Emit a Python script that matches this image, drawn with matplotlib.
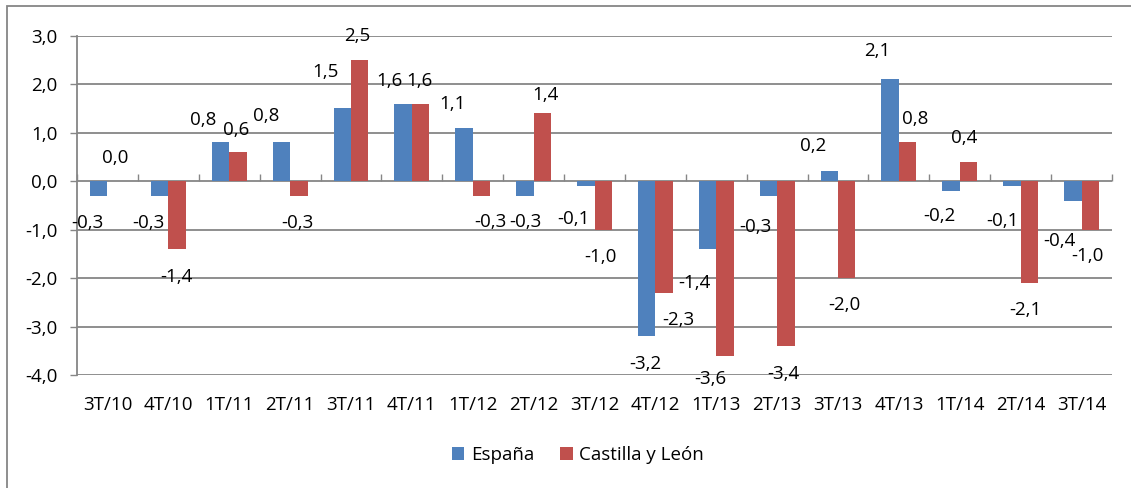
import matplotlib
matplotlib.use("Agg")
import matplotlib.pyplot as plt
from matplotlib.patches import Rectangle
import numpy as np

plt.rcParams['font.family'] = ['Open Sans', 'DejaVu Sans']

categories = ["3T/10", "4T/10", "1T/11", "2T/11", "3T/11", "4T/11", "1T/12", "2T/12", "3T/12",
              "4T/12", "1T/13", "2T/13", "3T/13", "4T/13", "1T/14", "2T/14", "3T/14"]
espana = [-0.3, -0.3, 0.8, 0.8, 1.5, 1.6, 1.1, -0.3, -0.1, -3.2, -1.4, -0.3, 0.2, 2.1, -0.2, -0.1, -0.4]
castilla = [0.0, -1.4, 0.6, -0.3, 2.5, 1.6, -0.3, 1.4, -1.0, -2.3, -3.6, -3.4, -2.0, 0.8, 0.4, -2.1, -1.0]
series_names = ["España", "Castilla y León"]

# label nudges (pixels) relative to bar end, as placed in the original chart
esp_dx = [-11.5, -11.4, -17, -15.5, -17, -14, -12, 0, -12, -1, -13, -13, -16, -13, -12, -10, -13]
esp_dy = [-26.9, -26.9, 22, 26, 36, 22.5, 24, -26, -33, -28, -34.5, -31, 25, 28.4, -25, -35, -40]
cyl_dx = [-0.7, -1, -1.7, -1.3, -2, -1, 8.6, 3.5, -2.5, 14, -15, -2.5, -2, 8, -4, -4, -3]
cyl_dy = [23.6, -28.5, 22.4, -27, 24, 22.5, -26, 17.8, -27.2, -27.3, -23.5, -28.3, -27.3, 23.4, 23.7, -27, -26.5]

BLUE = "#4F81BD"
RED = "#C0504D"
GRID = "#868686"
DPI = 100
W, H = 1131, 488
FS = 13.5

fig = plt.figure(figsize=(W / DPI, H / DPI), dpi=DPI)
ax = fig.add_axes([77 / W, 1 - 375 / H, (1112 - 77) / W, (375 - 35.7) / H])

x = np.arange(len(categories))
bw = 0.286
b1 = ax.bar(x - bw / 2, espana, bw, color=BLUE, label=series_names[0], zorder=3)
b2 = ax.bar(x + bw / 2, castilla, bw, color=RED, label=series_names[1], zorder=3)

ax.set_xlim(-0.5, len(categories) - 0.5)
ax.set_ylim(-4, 3)
yt = np.arange(-4, 4, 1)
ax.set_yticks(yt)
ax.set_yticklabels([f"{v:.1f}".replace('.', ',') for v in yt])
ax.yaxis.grid(True, color=GRID, linewidth=1.3, zorder=0)
ax.set_axisbelow(True)

ax.set_xticks(x)
ax.set_xticklabels(categories)
ax.tick_params(axis='x', length=0, pad=15, labelsize=FS, colors='black')
ax.tick_params(axis='y', length=5, width=1.0, color=GRID, pad=9, labelsize=FS, direction='out')

for s in ['top', 'right', 'bottom']:
    ax.spines[s].set_visible(False)
ax.spines['left'].set_color(GRID)
ax.spines['left'].set_linewidth(1.3)

# horizontal axis line at zero with boundary ticks
sec = ax.secondary_xaxis(4 / 7)
sec.set_xticks(np.arange(-0.5, len(categories), 1))
sec.set_xticklabels([])
sec.tick_params(axis='x', direction='out', length=5, width=1.0, color=GRID)
sec.spines['bottom'].set_color(GRID)
sec.spines['bottom'].set_linewidth(1.3)
sec.spines['top'].set_visible(False)

def fmt(v):
    return f"{v:.1f}".replace('.', ',')

px2pt = 72 / DPI
for i in range(len(categories)):
    ax.annotate(fmt(espana[i]), (x[i] - bw / 2, espana[i]),
                xytext=(esp_dx[i] * px2pt, esp_dy[i] * px2pt), textcoords='offset points',
                ha='center', va='center', fontsize=FS, zorder=5)
    ax.annotate(fmt(castilla[i]), (x[i] + bw / 2, castilla[i]),
                xytext=(cyl_dx[i] * px2pt, cyl_dy[i] * px2pt), textcoords='offset points',
                ha='center', va='center', fontsize=FS, zorder=5)

fig.legend(handles=[b1, b2], labels=series_names, loc='center', bbox_to_anchor=(578 / W, 1 - 455 / H),
           ncol=2, frameon=False, fontsize=FS, handlelength=0.65, handleheight=0.65,
           handletextpad=0.35, columnspacing=1.4)

fig.patches.append(Rectangle((6.5 / W, -0.1), 1.2, 1 - 6.5 / H + 0.1, transform=fig.transFigure,
                             fill=False, edgecolor=GRID, linewidth=1.3))

fig.savefig("out.png", dpi=DPI)
